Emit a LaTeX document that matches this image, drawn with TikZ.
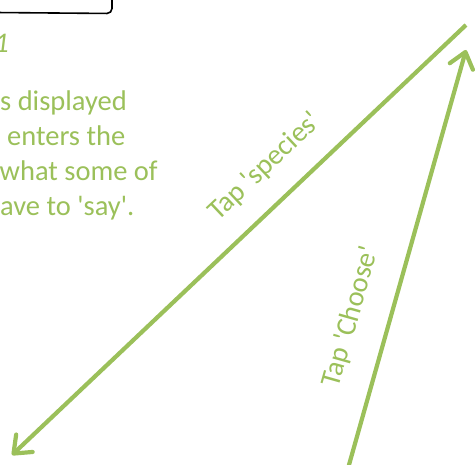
\documentclass[tikz,border=0pt]{standalone}
\usepackage{fontspec}
\newfontfamily\cf{Carlito}
\usetikzlibrary{arrows.meta}
\definecolor{leaf}{RGB}{155,192,90}
\tikzset{
  txt/.style={font=\cf\fontsize{28.5}{35}\selectfont, text=leaf, inner sep=0pt},
  flow/.style={draw=leaf, line width=4.2pt, -{Straight Barb[length=15pt,width=24pt,round]}},
  frame/.style={draw=black, line width=1.6pt, rounded corners=5pt}
}
\begin{document}
\begin{tikzpicture}[x=1pt,y=-1pt]
\useasboundingbox (0,0) rectangle (475,465);
\clip (0,0) rectangle (475,465);
% box fragment
\coordinate (b1) at (-5,12.5);
\coordinate (b2) at (112,13.5);
\coordinate (b3) at (112,-5);
\draw[frame] (b1) -- (b2) -- (b3);
% texts
\node[txt, anchor=base east, font=\cf\itshape\fontsize{28.5}{35}\selectfont] (num) at (9,53) {1};
\node[txt, anchor=base west] (l1) at (0,111) {s displayed};
\node[txt, anchor=base west] (l2) at (7,146) {enters the};
\node[txt, anchor=base west] (l3) at (-0.5,181) {what some of};
\node[txt, anchor=base west] (l4) at (0,216) {ave to 'say'.};
% arrows
\coordinate (a1s) at (466,25);
\coordinate (a1e) at (12,455);
\draw[flow] (a1s) -- (a1e);
\coordinate (a2s) at (347,472);
\coordinate (a2e) at (466,50);
\draw[flow] (a2s) -- (a2e);
% labels
\node[txt, rotate=43.4] (lab1) at (265,167) {Tap 'species'};
\node[txt, rotate=74.2] (lab2) at (351,317) {Tap 'Choose'};
\end{tikzpicture}
\end{document}
